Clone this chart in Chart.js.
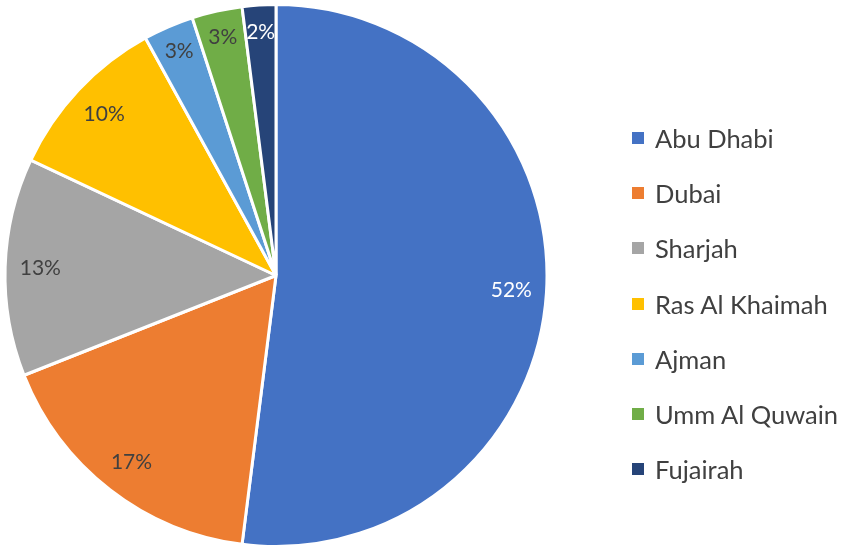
<!DOCTYPE html>
<html>
<head>
<meta charset="utf-8">
<script src="https://cdn.jsdelivr.net/npm/chart.js@4"></script>
<style>
  html, body { margin: 0; padding: 0; background: #fff; }
  #wrap { position: relative; width: 851px; height: 551px; }
  #legend { position: absolute; left: 632px; top: 0; font-family: Lato, "Open Sans", sans-serif; font-size: 25.5px; color: #404040; }
  #legend div { position: absolute; white-space: nowrap; display: flex; align-items: center; }
  #legend span.box { display: inline-block; width: 12px; height: 12px; margin-right: 11px; }
</style>
</head>
<body>
<div id="wrap">
  <canvas id="pieChart" width="851" height="551"></canvas>
  <div id="legend"></div>
</div>
<script>
const emiratos = ["Abu Dhabi", "Dubai", "Sharjah", "Ras Al Khaimah", "Ajman", "Umm Al Quwain", "Fujairah"];
const porcentajes = [52, 17, 13, 10, 3, 3, 2];
const colores = ["#4472C4", "#ED7D31", "#A5A5A5", "#FFC000", "#5B9BD5", "#70AD47", "#264478"];
const coloresTexto = ["#FFFFFF", "#404040", "#404040", "#404040", "#404040", "#404040", "#FFFFFF"];

// etiquetas de porcentaje dentro de cada porcion
const etiquetasPlugin = {
    id: "etiquetas",
    afterDatasetsDraw(chart) {
        const ctx = chart.ctx;
        const meta = chart.getDatasetMeta(0);
        ctx.save();
        ctx.font = "21px Lato, 'Open Sans', sans-serif";
        ctx.textAlign = "center";
        ctx.textBaseline = "middle";
        meta.data.forEach((arc, i) => {
            const p = arc.getProps(["x", "y", "startAngle", "endAngle", "outerRadius"], true);
            const mid = (p.startAngle + p.endAngle) / 2;
            const r = p.outerRadius * (porcentajes[i] < 5 ? 0.9 : 0.87);
            ctx.fillStyle = coloresTexto[i];
            ctx.fillText(porcentajes[i] + "%", p.x + Math.cos(mid) * r, p.y + Math.sin(mid) * r);
        });
        ctx.restore();
    }
};

new Chart(document.getElementById("pieChart"), {
    type: "pie",
    data: {
        labels: emiratos,
        datasets: [{
            data: porcentajes,
            backgroundColor: colores,
            borderColor: "#FFFFFF",
            borderWidth: 3
        }]
    },
    options: {
        responsive: false,
        animation: false,
        layout: { padding: { left: 3, top: 3, bottom: 3, right: 851 - 549 } },
        plugins: {
            legend: { display: false },
            tooltip: { enabled: false }
        }
    },
    plugins: [etiquetasPlugin]
});

const legend = document.getElementById("legend");
emiratos.forEach((nombre, i) => {
    const item = document.createElement("div");
    item.style.top = (140 + i * 55.2 - 17) + "px";
    item.innerHTML = `<span class="box" style="background:${colores[i]}"></span>${nombre}`;
    legend.appendChild(item);
});
</script>
</body>
</html>
